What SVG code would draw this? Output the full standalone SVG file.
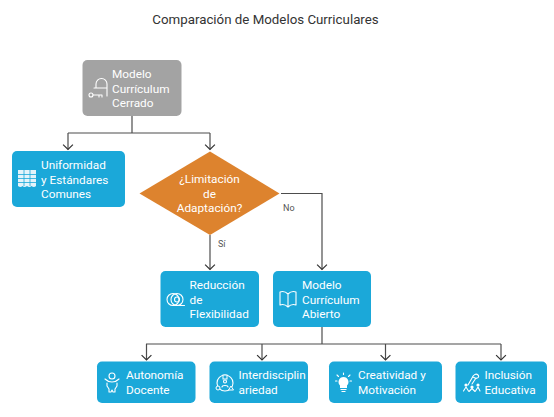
<svg xmlns="http://www.w3.org/2000/svg" width="554" height="417" viewBox="0 0 554 417">
<style>
text{font-family:Roboto,"Liberation Sans",sans-serif}
.title{font-size:13.3px;fill:#333;text-anchor:middle}
.n{font-size:11.8px;fill:#fff}
.c{text-anchor:middle}
.l{font-size:9px;fill:#555}
.blue{fill:#1ba8d9}
.ic{fill:none;stroke:#fff;stroke-width:1.1;stroke-linecap:round;stroke-linejoin:round}
.w{fill:none;stroke:#4d4d4d;stroke-width:1.2}
</style>
<defs>
<marker id="a" markerUnits="userSpaceOnUse" markerWidth="12" markerHeight="8" refX="5.5" refY="6" orient="0" viewBox="0 0 11 7"><path d="M1 1.5L5.5 6L10 1.5" fill="none" stroke="#333" stroke-width="1.1"/></marker>
</defs>
<rect width="554" height="417" fill="#fff"/>
<text class="title" x="265.500" y="24">Comparación de Modelos Curriculares</text>
<g id="connectors">
<path class="w" d="M132 116V133M68 133H210M68 133V149.500" marker-end="url(#a)"/>
<path class="w" d="M210 133V149.500" marker-end="url(#a)"/>
<path class="w" d="M210 235V269.500" marker-end="url(#a)"/>
<path class="w" d="M281 193.500H322V269.500" marker-end="url(#a)"/>
<path class="w" d="M322 327V344"/>
<path class="w" d="M146 344H501"/>
<path class="w" d="M146.500 344V360" marker-end="url(#a)"/>
<path class="w" d="M262 344V360" marker-end="url(#a)"/>
<path class="w" d="M385.500 344V360" marker-end="url(#a)"/>
<path class="w" d="M501 344V360" marker-end="url(#a)"/>
<text class="l" x="283" y="211">No</text>
<text class="l" x="218" y="246.500">Sí</text>
</g>
<g id="n-cerrado">
<rect x="82.500" y="60" width="99" height="56" rx="5" fill="#a3a3a3"/>
<path class="ic" d="M96 88v-4a5.500 5.500 0 0 1 11 0v12M94 88h13"/>
<circle class="ic" cx="91" cy="95" r="2"/>
<path class="ic" d="M93 95h9v2M99 95v2"/>
<text class="n" x="112" y="78">Modelo</text>
<text class="n" x="112" y="92.500">Currículum</text>
<text class="n" x="112" y="107">Cerrado</text>
</g>
<g id="n-uniformidad">
<rect class="blue" x="12" y="151" width="113" height="56" rx="5"/>
<path d="M18 170h18v16q-2 2-4.500 0q-2 2-4.500 0q-2.500 2-4.500 0q-2 2-4.500 0z" fill="#e3f3fa"/>
<path d="M18 174.500h18M18 178.500h18M18 182.500h18M24 170v16M30 170v16" stroke="#1ba8d9" stroke-width=".8" fill="none"/>
<text class="n" x="41" y="169">Uniformidad</text>
<text class="n" x="41" y="183.500">y Estándares</text>
<text class="n" x="41" y="198">Comunes</text>
</g>
<g id="n-limitacion">
<path d="M210 151.500L279.500 193.500L210 235L139.500 193.500Z" fill="#dd832e"/>
<text class="n c" x="209.500" y="183">¿Limitación</text>
<text class="n c" x="209.500" y="197.500">de</text>
<text class="n c" x="209.500" y="212">Adaptación?</text>
</g>
<g id="n-reduccion">
<rect class="blue" x="160.500" y="271" width="98.500" height="56" rx="5"/>
<circle class="ic" cx="173" cy="299.500" r="6"/>
<circle class="ic" cx="177" cy="299.500" r="6"/>
<circle class="ic" cx="177" cy="299.500" r="2.500"/>
<path class="ic" d="M173 305.500H184.500"/>
<text class="n" x="189.500" y="289">Reducción</text>
<text class="n" x="189.500" y="303.500">de</text>
<text class="n" x="189.500" y="318">Flexibilidad</text>
</g>
<g id="n-abierto">
<rect class="blue" x="273" y="271" width="98" height="56" rx="5"/>
<path class="ic" d="M280 292c3-1 6 0 8 2c2-2 5-3 8-2v13c-3-1-6 0-8 2c-2-2-5-3-8-2zM288 294v13"/>
<text class="n" x="302" y="289">Modelo</text>
<text class="n" x="302" y="303.500">Currículum</text>
<text class="n" x="302" y="318">Abierto</text>
</g>
<g id="n-autonomia">
<rect class="blue" x="97" y="361.500" width="98.500" height="41.500" rx="5"/>
<circle class="ic" cx="112" cy="376" r="3"/>
<path class="ic" d="M105 379c2 2 4 3 7 3s5-1 7-3M107 383v3l2 3v3h2l1-2l1 2h2v-3l2-3v-3"/>
<text class="n" x="126" y="379">Autonomía</text>
<text class="n" x="126" y="393.500">Docente</text>
</g>
<g id="n-interdisciplinariedad">
<rect class="blue" x="209.500" y="361.500" width="98.500" height="41.500" rx="5"/>
<circle class="ic" cx="225" cy="383" r="8"/>
<rect x="223" y="375" width="4" height="4" fill="#1ba8d9" stroke="#fff"/>
<circle cx="218" cy="388" r="2" fill="#1ba8d9" stroke="#fff"/>
<path d="M231 386l2.500 4h-5z" fill="#1ba8d9" stroke="#fff"/>
<circle class="ic" cx="225" cy="381.500" r="1.500"/>
<path class="ic" d="M222 387c0-2 6-2 6 0"/>
<text class="n" x="238.500" y="379">Interdisciplin</text>
<text class="n" x="238.500" y="393.500">ariedad</text>
</g>
<g id="n-creatividad">
<rect class="blue" x="329" y="361.500" width="113" height="41.500" rx="5"/>
<path d="M343.500 377a5 5 0 0 1 3.500 8.500v2.500h-7v-2.500a5 5 0 0 1 3.500-8.500z" fill="#fff"/>
<path d="M340.500 389.500h6M341.500 391.500h4" stroke="#fff" stroke-width="1.200"/>
<path class="ic" d="M343.500 373v1.500M337 375l1.500 1.500M350 375l-1.500 1.500M335.500 381h1.500M350 381h1.500"/>
<text class="n" x="358" y="379">Creatividad y</text>
<text class="n" x="358" y="393.500">Motivación</text>
</g>
<g id="n-inclusion">
<rect class="blue" x="455.500" y="361.500" width="91.500" height="41.500" rx="5"/>
<path class="ic" d="M468 385l4-7c1-3 4-5 6-3s-1 4-3 3l-2-1M472 384l4-6"/>
<circle cx="466" cy="385" r="1.600" fill="#fff"/>
<circle cx="472" cy="387" r="1.600" fill="#fff"/>
<circle cx="478" cy="385" r="1.600" fill="#fff"/>
<path class="ic" d="M463.500 391l2.500-4l2.500 4M469 391.500l3-3l3 3M475.500 391l2.500-4l2 4"/>
<text class="n" x="484.500" y="379">Inclusión</text>
<text class="n" x="484.500" y="393.500">Educativa</text>
</g>
</svg>
